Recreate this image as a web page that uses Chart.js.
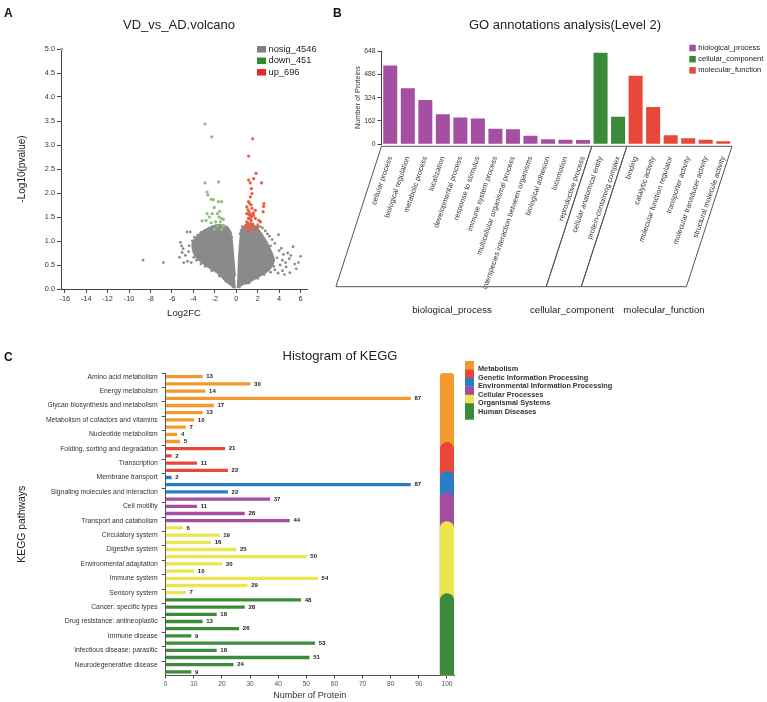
<!DOCTYPE html>
<html>
<head>
<meta charset="utf-8">
<title>Volcano, GO and KEGG</title>
<script src="https://cdn.jsdelivr.net/npm/chart.js@4.4.1/dist/chart.umd.min.js"></script>
<style>
  html, body { margin: 0; padding: 0; background: #fff; }
  #fig { position: relative; width: 767px; height: 702px; overflow: hidden; font-family: Arial, "Liberation Sans", sans-serif; color: #222; }
  #fig canvas { position: absolute; }
  .txt { position: absolute; white-space: nowrap; line-height: 1; }
  .letter { font-size: 12px; font-weight: bold; color: #111; }
  .title { font-size: 13px; transform: translateX(-50%); color: #222; }
</style>
</head>
<body>
<div id="fig">
  <canvas id="volcano" width="330" height="325" style="left:0;top:0"></canvas>
  <canvas id="goChart" width="437" height="330" style="left:330px;top:0"></canvas>
  <canvas id="keggChart" width="767" height="372" style="left:0;top:330px"></canvas>
  <div class="txt letter" style="left:4px;top:7px">A</div>
  <div class="txt letter" style="left:333px;top:7px">B</div>
  <div class="txt letter" style="left:4px;top:351px">C</div>
  <div class="txt title" style="left:179px;top:17.5px">VD_vs_AD.volcano</div>
  <div class="txt title" style="left:565px;top:18px">GO annotations analysis(Level 2)</div>
  <div class="txt title" style="left:340px;top:348.5px">Histogram of KEGG</div>
</div>
<script>
Chart.defaults.font.family = 'Arial, "Liberation Sans", sans-serif';

// ---------- A: volcano ----------
const volcanoXTicks = [-16, -14, -12, -10, -8, -6, -4, -2, 0, 2, 4, 6];
const volcanoYTicks = [0, 0.5, 1, 1.5, 2, 2.5, 3, 3.5, 4, 4.5, 5];
const volcanoLegend = ['nosig_4546', 'down_451', 'up_696'];
const volcanoLegendColors = ['#808080', '#2e8b2e', '#e8262a'];

// outline of the dense grey cloud (each lobe)
const cloudLeft = [[-0.06,0.02],[-0.9,0.15],[-1.70,0.33],[-2.6,0.46],[-3.29,0.57],[-3.93,0.74],[-4.08,0.95],
  [-3.45,1.13],[-2.65,1.26],[-1.70,1.33],[-0.91,1.30],[-0.50,1.16],[-0.28,0.67],[-0.12,0.26]];
const cloudRight = [[0.13,0.02],[0.2,0.3],[0.26,0.67],[0.51,1.23],[0.99,1.33],[1.78,1.30],[2.41,1.13],
  [3.05,0.88],[3.52,0.60],[3.05,0.40],[1.78,0.22],[0.83,0.10]];

const nosigPoints = [[-8.7,0.60],[-6.8,0.55],[-5.2,0.97],[-5.1,0.9],[-4.95,0.84],[-5.05,0.76],[-4.6,1.19],[-4.3,1.19],
  [-4.75,0.7],[-4.55,0.58],[-4.4,0.9],[-4.1,1.0],[-3.9,1.08],[-3.75,0.92],[-3.6,1.12],[-3.3,1.18],[-3.1,1.05],
  [-2.95,1.22],[-2.8,1.15],[-2.55,1.27],[-2.35,1.2],[-2.2,1.3],[-2.0,1.25],[-1.85,1.33],[-1.6,1.27],[-1.4,1.22],
  [-1.2,1.3],[-1.0,1.2],[-0.8,1.17],[-0.6,1.12],[-0.45,1.08],[-3.95,0.66],[-4.2,0.55],[-3.7,0.6],[-3.3,0.52],
  [-2.9,0.47],[-2.3,0.38],[-1.6,0.27],[-1.0,0.17],[-4.45,0.78],[-3.55,0.68],[-5.3,0.66],[-4.9,0.55],
  [-3.2,0.78],[-2.5,0.95],[-3.65,0.8],[-0.3,0.04],
  [0.3,0.04],[1.2,0.13],[2.0,0.22],[2.6,0.3],[3.2,0.35],[3.6,0.4],[3.9,0.33],[4.3,0.38],[4.5,0.3],
  [4.65,0.46],[5.0,0.34],[5.6,0.42],[5.45,0.52],[5.8,0.55],[6.0,0.68],[5.3,0.88],[4.95,0.63],[4.3,0.6],[4.4,0.72],
  [4.8,0.75],[4.2,0.85],[3.95,1.13],[3.6,0.95],[3.35,1.03],[3.1,1.1],[2.9,1.15],[2.7,1.21],[2.45,1.27],[2.25,1.3],
  [2.0,1.34],[1.75,1.3],[0.55,1.3],[0.45,1.22],[0.35,1.15],[0.62,1.25],[3.8,0.65],[4.1,0.5],[3.5,0.47],[3.05,0.74],
  [3.3,0.6],[4.6,0.55],[5.1,0.7],[3.2,0.9],[4.0,0.8]];

const downPoints = [[-16.3,5.0],[-2.91,3.44],[-2.28,3.17],[-2.91,2.21],[-1.64,2.23],[-2.72,2.02],[-2.65,1.96],
  [-2.35,1.87],[-2.15,1.86],[-1.67,1.82],[-1.36,1.82],[-2.72,1.57],[-3.19,1.42],[-2.25,1.57],[-1.77,1.57],
  [-1.61,1.5],[-1.39,1.47],[-1.93,1.4],[-1.5,1.4],[-1.14,1.31],[-2.35,1.38],[-2.82,1.43],[-2.03,1.24],
  [-1.39,1.24],[-1.25,1.33],[-1.8,1.31],[-2.5,1.5],[-1.55,1.62],[-2.05,1.7],[-1.2,1.45]];

const upPoints = [[6.92,5.14],[1.53,3.13],[1.15,2.77],[1.85,2.41],[1.63,2.3],[1.15,2.27],[1.31,2.21],[2.36,2.21],
  [1.41,2.09],[1.47,1.99],[1.31,1.92],[2.58,1.78],[2.55,1.72],[1.15,1.82],[1.25,1.78],[0.99,1.71],[1.47,1.68],
  [1.78,1.64],[2.51,1.61],[0.99,1.57],[1.21,1.54],[1.41,1.5],[1.15,1.47],[1.3,1.46],[1.78,1.47],[2.1,1.43],
  [0.99,1.4],[1.31,1.36],[2.26,1.4],[0.9,1.33],[1.47,1.29],[1.15,1.22],[1.78,1.24],[0.83,1.28],[1.05,1.38],
  [1.4,1.42],[1.2,1.6],[1.35,1.55],[1.1,1.65],[1.6,1.53],[1.0,1.3],[1.55,1.35],[2.0,1.3],[1.2,1.3],[1.4,1.75],[1.6,1.58]];

// ---------- B: GO ----------
const goTerms = ['cellular process','biological regulation','metabolic process','localization','developmental process',
  'response to stimulus','immune system process','multicellular organismal process',
  'interspecies interaction between organisms','biological adhesion','locomotion','reproductive process',
  'cellular anatomical entity','protein-containing complex',
  'binding','catalytic activity','molecular function regulator','transporter activity',
  'molecular transducer activity','structural molecule activity'];
const goCounts = [548, 389, 307, 208, 187, 180, 108, 104, 60, 35, 31, 30, 636, 192, 476, 259, 62, 42, 32, 21];
const goGroups = ['biological_process', 'cellular_component', 'molecular_function'];
const goGroupSizes = [12, 2, 6];
const goYTicks = [0, 162, 324, 486, 648];
const goColors = ['#a44fa2', '#3a8a3a', '#e8483a'];

// ---------- C: KEGG ----------
const keggPathways = ['Amino acid metabolism','Carbohydrate metabolism','Energy metabolism','Global and overview maps',
  'Glycan biosynthesis and metabolism','Lipid metabolism','Metabolism of cofactors and vitamins',
  'Metabolism of other amino acids','Nucleotide metabolism','Xenobiotics biodegradation and metabolism',
  'Folding, sorting and degradation','Replication and repair','Transcription','Translation',
  'Membrane transport','Signal transduction','Signaling molecules and interaction',
  'Cell growth and death','Cell motility','Cellular community - eukaryotes','Transport and catabolism',
  'Aging','Circulatory system','Development and regeneration','Digestive system','Endocrine system',
  'Environmental adaptation','Excretory system','Immune system','Nervous system','Sensory system',
  'Cancer: overview','Cancer: specific types','Cardiovascular disease','Drug resistance: antineoplastic',
  'Endocrine and metabolic disease','Immune disease','Infectious disease: bacterial',
  'Infectious disease: parasitic','Infectious disease: viral','Neurodegenerative disease','Substance dependence'];
const keggCounts = [13, 30, 14, 87, 17, 13, 10, 7, 4, 5,
  21, 2, 11, 22,
  2, 87, 22,
  37, 11, 28, 44,
  6, 19, 16, 25, 50, 20, 10, 54, 29, 7,
  48, 28, 18, 13, 26, 9, 53, 18, 51, 24, 9];
const keggClasses = ['Metabolism', 'Genetic Information Processing', 'Environmental Information Processing',
  'Cellular Processes', 'Organismal Systems', 'Human Diseases'];
const keggClassSizes = [10, 4, 3, 4, 10, 11];
const keggXTicks = [0, 10, 20, 30, 40, 50, 60, 70, 80, 90, 100];
const keggColors = ['#f29a2e', '#e8473a', '#2a7ec3', '#a54e9f', '#ede54f', '#3c8b3a'];

const xy = arr => arr.map(([x, y]) => ({ x, y }));
const groupIndex = sizes => sizes.flatMap((n, g) => Array(n).fill(g));

// little legend: coloured box + label
const boxLegend = {
  id: 'boxLegend',
  afterDraw(chart, args, o) {
    if (!o.items) return;
    const ctx = chart.ctx;
    ctx.save();
    ctx.font = o.font;
    ctx.textBaseline = 'middle';
    ctx.textAlign = 'left';
    o.items.forEach((it, i) => {
      const y = o.y + i * o.step;
      ctx.fillStyle = it.color;
      ctx.fillRect(o.x, y - o.h / 2, o.w, o.h);
      ctx.fillStyle = '#222';
      ctx.fillText(it.text, o.x + o.w + o.gap, y);
    });
    ctx.restore();
  }
};

// GO: slanted group frames under the rotated labels
const goBrackets = {
  id: 'goBrackets',
  afterDraw(chart, args, o) {
    const ctx = chart.ctx, xs = chart.scales.x;
    const half = (xs.getPixelForValue(1) - xs.getPixelForValue(0)) / 2;
    const top = chart.chartArea.bottom + 2;
    ctx.save();
    ctx.strokeStyle = '#555';
    ctx.lineWidth = 1;
    ctx.font = o.font;
    ctx.fillStyle = '#222';
    ctx.textAlign = 'center';
    ctx.textBaseline = 'middle';
    let start = 0;
    goGroupSizes.forEach((n, g) => {
      const l = xs.getPixelForValue(start) - half;
      const r = xs.getPixelForValue(start + n - 1) + half;
      ctx.beginPath();
      ctx.moveTo(l, top);
      ctx.lineTo(r, top);
      ctx.lineTo(r - o.slant, o.bottom);
      ctx.lineTo(l - o.slant, o.bottom);
      ctx.closePath();
      ctx.stroke();
      ctx.fillText(goGroups[g], o.labelX[g], o.labelY);
      start += n;
    });
    ctx.restore();
  }
};

function pillPath(ctx, x, y, w, h, rt, rb) {
  ctx.beginPath();
  ctx.moveTo(x, y + rt);
  ctx.arc(x + rt, y + rt, rt, Math.PI, 1.5 * Math.PI);
  ctx.lineTo(x + w - rt, y);
  ctx.arc(x + w - rt, y + rt, rt, 1.5 * Math.PI, 2 * Math.PI);
  ctx.lineTo(x + w, y + h - rb);
  ctx.arc(x + w - rb, y + h - rb, rb, 0, 0.5 * Math.PI);
  ctx.lineTo(x + rb, y + h);
  ctx.arc(x + rb, y + h - rb, rb, 0.5 * Math.PI, Math.PI);
  ctx.closePath();
}

// KEGG: value labels, class colour bar and legend
const keggExtras = {
  id: 'keggExtras',
  afterDatasetsDraw(chart, args, o) {
    const ctx = chart.ctx, xs = chart.scales.x, ys = chart.scales.y;
    ctx.save();
    ctx.font = 'bold 6px Arial, "Liberation Sans", sans-serif';
    ctx.fillStyle = '#222';
    ctx.textBaseline = 'middle';
    ctx.textAlign = 'left';
    chart.getDatasetMeta(0).data.forEach((bar, i) => {
      ctx.fillText(String(keggCounts[i]), bar.x + 4, bar.y);
    });
    const x0 = xs.getPixelForValue(o.pillFrom), x1 = xs.getPixelForValue(o.pillTo);
    const r = (x1 - x0) / 2;
    const pitch = ys.getPixelForValue(1) - ys.getPixelForValue(0);
    const bottom = chart.chartArea.bottom;
    let start = 0;
    keggClassSizes.forEach((n, g) => {
      const top = ys.getPixelForValue(start) - pitch / 2 - (g ? o.capLift : 0);
      ctx.fillStyle = keggColors[g];
      pillPath(ctx, x0, top, x1 - x0, bottom - top, g ? r : 3, 2);
      ctx.fill();
      start += n;
    });
    ctx.restore();
  },
  afterDraw(chart, args, o) {
    const ctx = chart.ctx;
    ctx.save();
    ctx.font = 'bold 7.3px Arial, "Liberation Sans", sans-serif';
    ctx.textBaseline = 'middle';
    ctx.textAlign = 'left';
    keggClasses.forEach((name, g) => {
      const top = o.legendY + g * o.legendStep;
      const h = g === keggClasses.length - 1 ? o.legendStep * 1.95 : o.legendStep + 0.3;
      ctx.fillStyle = keggColors[g];
      ctx.fillRect(o.legendX, top, 9, h);
      ctx.fillStyle = '#333';
      ctx.fillText(name, o.legendX + 13, top + o.legendStep - 0.2);
    });
    ctx.restore();
  }
};

const axisStyle = color => ({
  border: { display: true, color: color, width: 1 },
  grid: { display: true, drawOnChartArea: false, drawTicks: true, tickLength: 4, tickColor: color }
});

// ---- A ----
new Chart(document.getElementById('volcano'), {
  type: 'scatter',
  data: {
    datasets: [
      { type: 'line', data: xy(cloudLeft), fill: 'shape', tension: 0.25, backgroundColor: '#8a8a8a',
        borderColor: '#8a8a8a', borderWidth: 2, pointRadius: 0, order: 10 },
      { type: 'line', data: xy(cloudRight), fill: 'shape', tension: 0.25, backgroundColor: '#8a8a8a',
        borderColor: '#8a8a8a', borderWidth: 2, pointRadius: 0, order: 10 },
      { label: volcanoLegend[0], data: xy(nosigPoints), backgroundColor: '#8c8c8c', borderWidth: 0,
        pointRadius: 1.4, order: 5, clip: false },
      { label: volcanoLegend[1], data: xy(downPoints), backgroundColor: '#8fbf78', borderWidth: 0,
        pointRadius: 1.6, order: 2, clip: false },
      { label: volcanoLegend[2], data: xy(upPoints), backgroundColor: '#ee5a3c', borderWidth: 0,
        pointRadius: 1.6, order: 1, clip: false }
    ]
  },
  options: {
    responsive: false,
    animation: false,
    events: [],
    layout: { padding: { top: 49, right: 23, bottom: 0, left: 0 } },
    plugins: {
      legend: { display: false },
      tooltip: { enabled: false },
      boxLegend: {
        x: 257, y: 49.3, step: 11.5, w: 9, h: 6.5, gap: 2.5,
        font: '9.3px Arial, "Liberation Sans", sans-serif',
        items: volcanoLegend.map((t, i) => ({ text: t, color: volcanoLegendColors[i] }))
      }
    },
    scales: {
      x: {
        type: 'linear', min: -16.35, max: 6.6,
        afterBuildTicks: s => { s.ticks = volcanoXTicks.map(v => ({ value: v })); },
        afterFit: s => { s.height = 36; },
        ...axisStyle('#444'),
        ticks: { color: '#333', font: { size: 7.3 }, padding: 2, maxRotation: 0, autoSkip: false },
        title: { display: true, text: 'Log2FC', color: '#222', font: { size: 9.5 }, padding: { top: 0, bottom: 6 } }
      },
      y: {
        min: 0, max: 5,
        afterBuildTicks: s => { s.ticks = volcanoYTicks.map(v => ({ value: v })); },
        afterFit: s => { s.width = 61; },
        ...axisStyle('#444'),
        ticks: { color: '#333', font: { size: 7.3 }, padding: 2, callback: v => Number(v).toFixed(1) },
        title: { display: true, text: '-Log10(pvalue)', color: '#222', font: { size: 10 }, padding: { top: 16, bottom: 0 } }
      }
    }
  },
  plugins: [boxLegend]
});

// ---- B ----
new Chart(document.getElementById('goChart'), {
  type: 'bar',
  data: {
    labels: goTerms,
    datasets: [{
      data: goCounts,
      backgroundColor: groupIndex(goGroupSizes).map(g => goColors[g]),
      categoryPercentage: 0.8,
      barPercentage: 1
    }]
  },
  options: {
    responsive: false,
    animation: false,
    events: [],
    layout: { padding: { top: 51, right: 35, bottom: 0, left: 0 } },
    plugins: {
      legend: { display: false },
      tooltip: { enabled: false },
      boxLegend: {
        x: 359.3, y: 48, step: 11.2, w: 6.5, h: 6.5, gap: 2.5,
        font: '7.5px Arial, "Liberation Sans", sans-serif',
        items: goGroups.map((t, i) => ({ text: t, color: goColors[i] }))
      },
      goBrackets: {
        bottom: 286.7, slant: 45.6, labelY: 310.7, labelX: [122, 242, 334],
        font: '9.7px Arial, "Liberation Sans", sans-serif'
      }
    },
    scales: {
      x: {
        afterFit: s => { s.height = 185.7; },
        border: { display: false },
        grid: { display: false },
        ticks: { minRotation: 71, maxRotation: 71, autoSkip: false, font: { size: 7.3 }, color: '#333', padding: 3 }
      },
      y: {
        min: 0, max: 648,
        afterBuildTicks: s => { s.ticks = goYTicks.map(v => ({ value: v })); },
        afterFit: s => { s.width = 51.5; },
        ...axisStyle('#444'),
        ticks: { font: { size: 6.8 }, color: '#333', padding: 2 },
        title: { display: true, text: 'Number of Proteins', font: { size: 7.3 }, color: '#333', padding: { top: 23.5, bottom: 0 } }
      }
    }
  },
  plugins: [boxLegend, goBrackets]
});

// ---- C ----
new Chart(document.getElementById('keggChart'), {
  type: 'bar',
  data: {
    labels: keggPathways,
    datasets: [{
      data: keggCounts,
      backgroundColor: groupIndex(keggClassSizes).map(g => keggColors[g]),
      barThickness: 2.6
    }]
  },
  options: {
    indexAxis: 'y',
    responsive: false,
    animation: false,
    events: [],
    layout: { padding: { top: 43.1, right: 313, bottom: 0, left: 0 } },
    plugins: {
      legend: { display: false },
      tooltip: { enabled: false },
      keggExtras: { pillFrom: 97.5, pillTo: 102.5, capLift: 3, legendX: 465, legendY: 31, legendStep: 8.45 }
    },
    scales: {
      x: {
        min: 0, max: 102.5,
        afterBuildTicks: s => { s.ticks = keggXTicks.map(v => ({ value: v })); },
        afterFit: s => { s.height = 26.5; },
        border: { display: true, color: '#555', width: 1 },
        grid: { display: true, drawOnChartArea: false, tickLength: 3, tickColor: '#555' },
        ticks: { font: { size: 6.6 }, color: '#555', padding: 2, maxRotation: 0 },
        title: { display: true, text: 'Number of Protein', font: { size: 9 }, color: '#333', padding: { top: 0, bottom: 1 } }
      },
      y: {
        afterFit: s => { s.width = 165.7; },
        border: { display: true, color: '#555', width: 1 },
        grid: {
          display: true, drawOnChartArea: false, tickLength: 4,
          tickColor: c => (c.index % 2 === 0 ? '#555' : 'rgba(0,0,0,0)')
        },
        ticks: {
          autoSkip: false, font: { size: 6.8 }, color: '#333', padding: 4,
          callback: (v, i) => (i % 2 === 0 ? keggPathways[i] : '')
        },
        title: { display: true, text: 'KEGG pathways', font: { size: 10.4 }, color: '#222', padding: { top: 16, bottom: 0 } }
      }
    }
  },
  plugins: [keggExtras]
});
</script>
</body>
</html>
